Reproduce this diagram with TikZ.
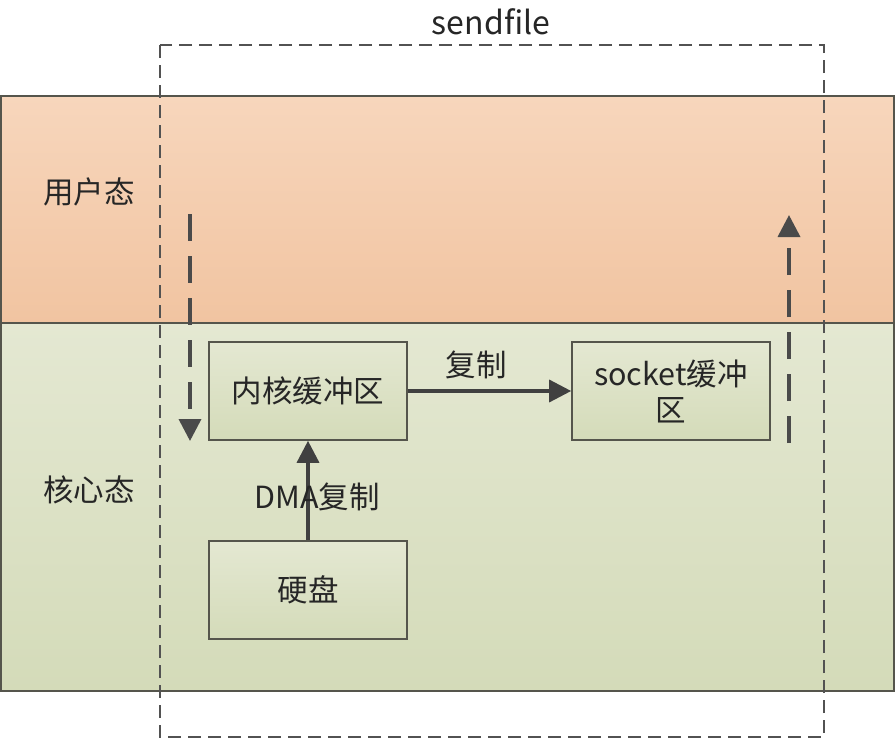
\documentclass[tikz,border=0pt]{standalone}
\usepackage{fontspec}
\setmainfont{Noto Sans CJK SC}
\usetikzlibrary{arrows.meta}
\definecolor{edge}{HTML}{55554C}
\definecolor{arr}{HTML}{404040}
\definecolor{orTop}{HTML}{F7D6BC}
\definecolor{orBot}{HTML}{F1C4A1}
\definecolor{grTop}{HTML}{E4E8D2}
\definecolor{grBot}{HTML}{D4DBB9}
\tikzset{
  band/.style={draw=edge, line width=2pt, anchor=north west, inner sep=0pt},
  bufbox/.style={draw=edge, line width=1.6pt, top color=grTop, bottom color=grBot,
    minimum width=198pt, minimum height=98pt, inner sep=0pt, align=center,
    font=\fontsize{30.5pt}{36pt}\selectfont, text=black!85},
  lbl/.style={font=\fontsize{30.5pt}{34pt}\selectfont, inner sep=0pt, text=black!85},
  flow/.style={draw=arr, line width=3.4pt, -{Triangle[length=22pt,width=22pt]}},
  dflow/.style={draw=arr!95, line width=3.6pt, dash pattern=on 27pt off 15pt, -{Triangle[length=22pt,width=22pt]}},
  sendbox/.style={draw=black!68, line width=1.6pt, dash pattern=on 13pt off 7pt}
}
\begin{document}
\begin{tikzpicture}[x=1pt,y=-1pt]
\useasboundingbox (0,0) rectangle (895,739);
\fill[white] (0,0) rectangle (895,739);
% bands
\node[band, top color=orTop, bottom color=orBot, minimum width=893pt, minimum height=227pt] (user) at (0,95) {};
\node[band, top color=grTop, bottom color=grBot, minimum width=893pt, minimum height=368pt] (kern) at (0,322) {};
\node[lbl] (userlbl) at (89,192) {用户态};
\node[lbl] (kernlbl) at (89,490) {核心态};
% sendfile dashed region
\draw[sendbox] (160,45) rectangle (824,737);
\node[lbl, font=\fontsize{32pt}{36pt}\selectfont] (sf) at (491,22) {sendfile};
% buffers
\node[bufbox] (kbuf) at (308,391) {内核缓冲区};
\node[bufbox] (sbuf) at (671,391) {socket缓冲\\区};
\node[bufbox] (disk) at (308,590) {硬盘};
% arrows
\draw[flow] (kbuf.east) -- (sbuf.west);
\node[lbl] (copy) at (476,365) {复制};
\draw[flow] (disk.north) -- (kbuf.south);
\node[lbl] (dma) at (317,497) {DMA复制};
\coordinate (lt) at (190,214);
\coordinate (lb) at (190,441);
\coordinate (rb) at (789,443);
\coordinate (rt) at (789,215);
\draw[dflow] (lt) -- (lb);
\draw[dflow] (rb) -- (rt);
\end{tikzpicture}
\end{document}
